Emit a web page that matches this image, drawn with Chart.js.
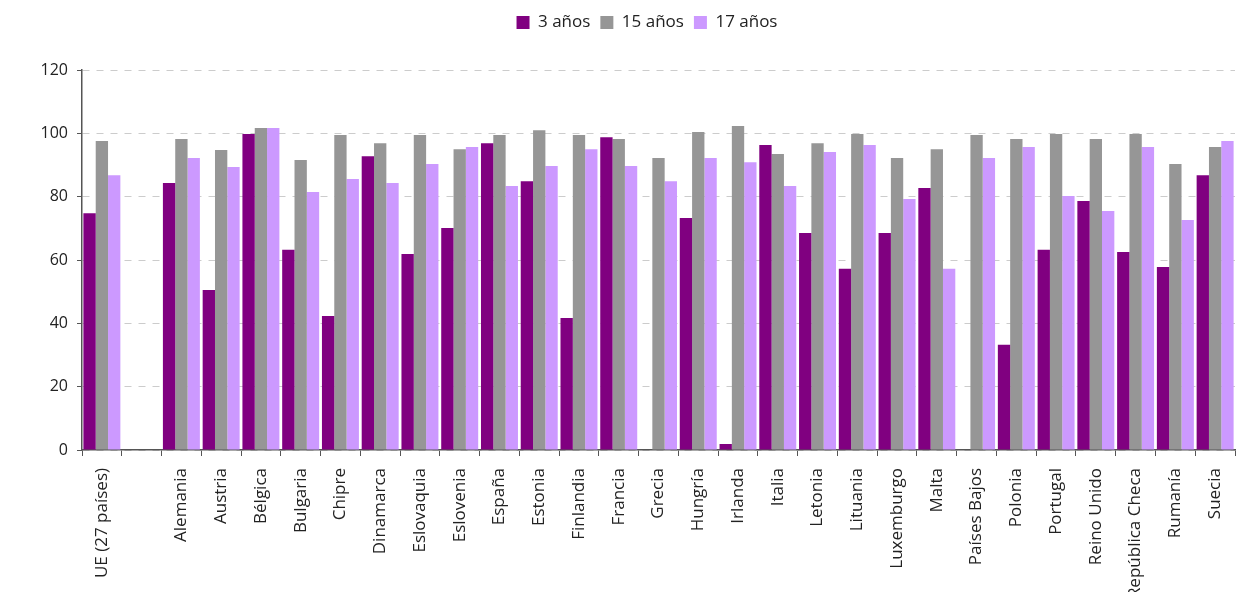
<!DOCTYPE html>
<html>
<head>
  <title>Escolarización por edad</title>
  <script src="https://cdn.jsdelivr.net/npm/chart.js"></script>
  <style>
    html, body { margin: 0; padding: 0; background: #fff; overflow: hidden; }
    #wrap { width: 1255px; height: 592px; }
  </style>
</head>
<body>
  <div id="wrap"><canvas id="myChart"></canvas></div>
  <script>
    const paises = ['UE (27 países)', '', 'Alemania', 'Austria', 'Bélgica', 'Bulgaria', 'Chipre', 'Dinamarca',
      'Eslovaquia', 'Eslovenia', 'España', 'Estonia', 'Finlandia', 'Francia', 'Grecia', 'Hungría', 'Irlanda',
      'Italia', 'Letonia', 'Lituania', 'Luxemburgo', 'Malta', 'Países Bajos', 'Polonia', 'Portugal',
      'Reino Unido', 'República Checa', 'Rumanía', 'Suecia'];
    const anios3 = [74.8, null, 84.3, 50.5, 99.8, 63.2, 42.3, 92.8, 61.9, 70.1, 96.9, 84.9, 41.7, 98.8, null,
      73.3, 1.9, 96.3, 68.5, 57.2, 68.5, 82.7, null, 33.2, 63.2, 78.6, 62.5, 57.8, 86.8];
    const anios15 = [97.6, null, 98.2, 94.7, 101.7, 91.6, 99.5, 96.9, 99.5, 95.0, 99.5, 101.0, 99.5, 98.2, 92.2,
      100.4, 102.3, 93.5, 96.9, 99.8, 92.2, 95.0, 99.5, 98.2, 99.8, 98.2, 99.8, 90.3, 95.7];
    const anios17 = [86.8, null, 92.2, 89.4, 101.7, 81.5, 85.6, 84.3, 90.3, 95.7, 83.4, 89.7, 95.0, 89.7, 84.9,
      92.2, 90.9, 83.4, 94.1, 96.3, 79.3, 57.2, 92.2, 95.7, 80.2, 75.5, 95.7, 72.6, 97.6];
    const yTicks = [0, 20, 40, 60, 80, 100, 120];

    const fontFam = "'Open Sans', 'Noto Sans', sans-serif";
    Chart.defaults.font.family = fontFam;
    Chart.defaults.color = '#222';

    // espacio extra bajo la leyenda y leyenda algo a la derecha
    const legendGap = {
      id: 'legendGap',
      beforeInit(chart) {
        const fit = chart.legend.fit;
        chart.legend.fit = function () {
          fit.bind(chart.legend)();
          this.height += 29;
        };
      },
      afterLayout(chart) {
        chart.legend.left += 11;
        chart.legend.right += 11;
      }
    };

    const ctx = document.getElementById('myChart').getContext('2d');
    const chart = new Chart(ctx, {
      type: 'bar',
      data: {
        labels: paises,
        datasets: [
          { label: '3 años', data: anios3, backgroundColor: '#800080' },
          { label: '15 años', data: anios15, backgroundColor: '#969696' },
          { label: '17 años', data: anios17, backgroundColor: '#cc99ff' }
        ]
      },
      options: {
        responsive: true,
        maintainAspectRatio: false,
        animation: false,
        datasets: { bar: { categoryPercentage: 0.93, barPercentage: 1.0 } },
        layout: { padding: { left: 37, right: 20, top: 4, bottom: 0 } },
        plugins: {
          tooltip: { enabled: false },
          legend: {
            position: 'top',
            labels: {
              boxWidth: 13,
              boxHeight: 13,
              padding: 10,
              font: { size: 17 },
              color: '#222'
            }
          }
        },
        scales: {
          x: {
            afterFit(scale) { scale.height = 142; },
            grid: { display: true, drawOnChartArea: false, drawTicks: true, tickLength: 6, color: '#555', lineWidth: 1 },
            border: { color: '#555', width: 1.5 },
            ticks: { autoSkip: false, maxRotation: 90, minRotation: 90, padding: 12, font: { size: 17 }, color: '#222' }
          },
          y: {
            min: 0,
            max: 120,
            afterFit(scale) { scale.width = 45; },
            afterBuildTicks(scale) { scale.ticks = yTicks.map(v => ({ value: v })); },
            grid: { color: '#cccccc', lineWidth: 1, tickLength: 5, tickColor: '#555' },
            border: { color: '#555', width: 1.5, dash: [7, 7] },
            ticks: { padding: 9, font: { size: 16 }, color: '#222' }
          }
        }
      },
      plugins: [legendGap]
    });
  </script>
</body>
</html>
